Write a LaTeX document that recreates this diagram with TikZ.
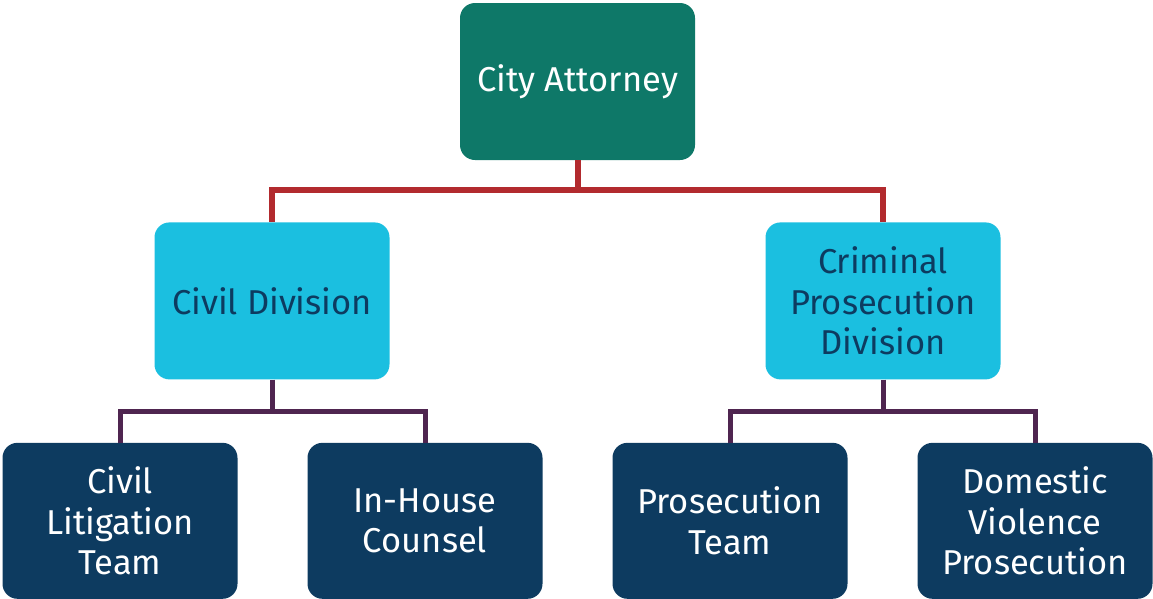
\documentclass[tikz,border=0pt]{standalone}
\usepackage{fontspec}
\setmainfont{Fira Sans}
\usepackage{tikz}
\usetikzlibrary{positioning, calc}

\definecolor{attygreen}{HTML}{0E7868}
\definecolor{divcyan}{HTML}{1BBFE0}
\definecolor{teamnavy}{HTML}{0D3B60}
\definecolor{topred}{HTML}{B22A2E}
\definecolor{subplum}{HTML}{4F2550}

\tikzset{
    box/.style={rectangle, rounded corners=15pt, inner sep=0pt,
        minimum width=235pt, minimum height=157pt, align=center,
        font=\fontsize{34.5}{40.5}\selectfont},
    head/.style={box, fill=attygreen, text=white},
    division/.style={box, fill=divcyan, text=teamnavy},
    team/.style={box, fill=teamnavy, text=white, minimum height=156pt},
    redlink/.style={draw=topred, line width=6pt},
    plumlink/.style={draw=subplum, line width=5pt},
}

\begin{document}
\begin{tikzpicture}
\useasboundingbox (0pt,0pt) rectangle (1153pt,-598pt);
\node[head] (ca) at (577.5pt,-81.5pt) {City Attorney};
\node[division, below=62pt of ca, xshift=-305.5pt] (civ) {Civil Division};
\node[division, below=62pt of ca, xshift=305.5pt] (crim) {Criminal\\Prosecution\\Division};
\node[team, below=63pt of civ, xshift=-152pt] (lit) {Civil\\Litigation\\Team};
\node[team, below=63pt of civ, xshift=153pt] (ihc) {In-House\\Counsel};
\node[team, below=63pt of crim, xshift=-153pt] (pros) {Prosecution\\Team};
\node[team, below=63pt of crim, xshift=152pt] (dv) {Domestic\\Violence\\Prosecution};
\coordinate[below=30pt of ca.south] (caj);
\coordinate[below=32pt of civ.south] (civj);
\coordinate[below=32pt of crim.south] (crimj);
\draw[redlink] (ca) -- (caj);
\draw[redlink] (caj) -| (civ);
\draw[redlink] (caj) -| (crim);
\draw[plumlink] (civ) -- (civj);
\draw[plumlink] (civj) -| (lit);
\draw[plumlink] (civj) -| (ihc);
\draw[plumlink] (crim) -- (crimj);
\draw[plumlink] (crimj) -| (pros);
\draw[plumlink] (crimj) -| (dv);
\end{tikzpicture}
\end{document}
